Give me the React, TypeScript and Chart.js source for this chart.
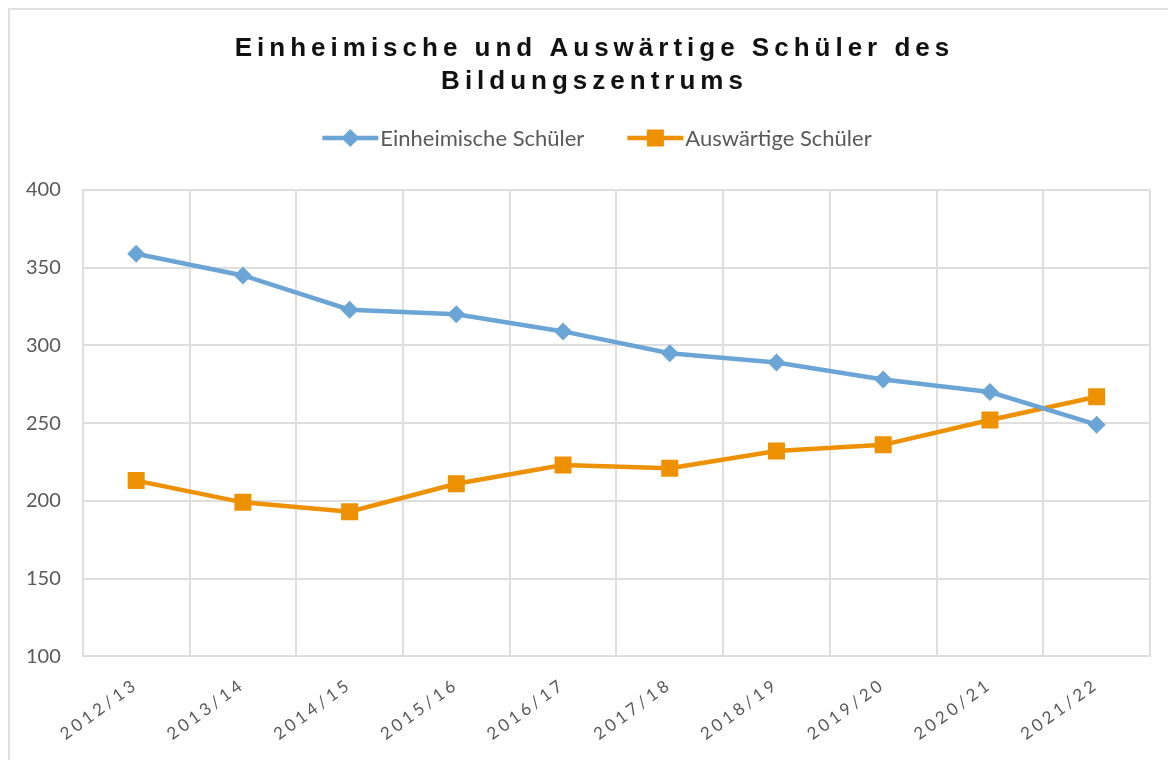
import React, { useEffect, useRef } from 'react';
import { Chart, registerables } from 'chart.js';

Chart.register(...registerables);

const TITLE_LINES = ['Einheimische und Auswärtige Schüler des', 'Bildungszentrums'];
const CATEGORIES = ['2012/13', '2013/14', '2014/15', '2015/16', '2016/17', '2017/18', '2018/19', '2019/20', '2020/21', '2021/22'];
const EINHEIMISCHE = [359, 345, 323, 320, 309, 295, 289, 278, 270, 249];
const AUSWAERTIGE = [213, 199, 193, 211, 223, 221, 232, 236, 252, 267];
const SERIES_NAMES = ['Einheimische Schüler', 'Auswärtige Schüler'];
const Y_MIN = 100;
const Y_MAX = 400;
const Y_STEP = 50;

const BLUE = '#6BA5D6';
const ORANGE = '#EE9100';
const GRID = '#DEDEDE';
const LABEL = '#595959';

function drawMarker(ctx: CanvasRenderingContext2D, style: string, x: number, y: number, color: string) {
  ctx.save();
  ctx.fillStyle = color;
  ctx.beginPath();
  if (style === 'rectRot') {
    const r = 9;
    ctx.moveTo(x - r, y);
    ctx.lineTo(x, y - r);
    ctx.lineTo(x + r, y);
    ctx.lineTo(x, y + r);
    ctx.closePath();
  } else {
    const s = 8.5;
    ctx.rect(x - s, y - s, 2 * s, 2 * s);
  }
  ctx.fill();
  ctx.restore();
}

const titleLegendPlugin = {
  id: 'titleLegend',
  afterDraw(chart: any) {
    const ctx: CanvasRenderingContext2D = chart.ctx;
    const cx = chart.width / 2;
    ctx.save();
    // title
    ctx.fillStyle = '#111111';
    ctx.font = 'bold 26px "Liberation Sans", Arial, sans-serif';
    (ctx as any).letterSpacing = '5px';
    ctx.textAlign = 'center';
    ctx.textBaseline = 'alphabetic';
    TITLE_LINES.forEach((t, i) => {
      ctx.fillText(t, cx + 1.5, 46 + i * 33);
    });
    // legend
    (ctx as any).letterSpacing = '0px';
    ctx.font = '22px Lato, sans-serif';
    ctx.textAlign = 'left';
    ctx.textBaseline = 'middle';
    const lineLen = 56;
    const gapText = 2;
    const gapItems = 43;
    const ds = chart.data.datasets;
    const widths = ds.map((d: any) => ctx.measureText(d.label).width);
    let total = 0;
    widths.forEach((w: number, i: number) => {
      total += lineLen + gapText + w + (i < widths.length - 1 ? gapItems : 0);
    });
    let x = cx - total / 2 + 4;
    const y = 128;
    ds.forEach((d: any, i: number) => {
      ctx.strokeStyle = d.borderColor;
      ctx.lineWidth = 4.5;
      ctx.beginPath();
      ctx.moveTo(x, y);
      ctx.lineTo(x + lineLen, y);
      ctx.stroke();
      drawMarker(ctx, d.pointStyle, x + lineLen / 2, y, d.borderColor);
      ctx.fillStyle = LABEL;
      ctx.fillText(d.label, x + lineLen + gapText, y + 1);
      x += lineLen + gapText + widths[i] + gapItems;
    });
    ctx.restore();
  },
};

export default function App() {
  const ref = useRef<HTMLCanvasElement | null>(null);
  useEffect(() => {
    if (!ref.current) return;
    const chart = new Chart(ref.current, {
      type: 'line',
      data: {
        labels: CATEGORIES,
        datasets: [
          {
            label: SERIES_NAMES[0],
            data: EINHEIMISCHE,
            borderColor: BLUE,
            backgroundColor: BLUE,
            borderWidth: 4.5,
            pointStyle: 'rectRot',
            pointRadius: 9,
            pointBorderWidth: 0,
            tension: 0,
          },
          {
            label: SERIES_NAMES[1],
            data: AUSWAERTIGE,
            borderColor: ORANGE,
            backgroundColor: ORANGE,
            borderWidth: 4.5,
            pointStyle: 'rect',
            pointRadius: 12,
            pointBorderWidth: 0,
            tension: 0,
          },
        ],
      },
      options: {
        responsive: false,
        animation: false,
        devicePixelRatio: 1,
        layout: { padding: { top: 180, left: -6, right: 26, bottom: 12 } },
        plugins: {
          legend: { display: false },
          title: { display: false },
          tooltip: { enabled: false },
        },
        scales: {
          x: {
            offset: true,
            grid: { offset: true, color: GRID, lineWidth: 2, drawTicks: false },
            border: { color: GRID, width: 2 },
            ticks: {
              minRotation: 36,
              maxRotation: 36,
              color: LABEL,
              padding: 18,
              font: { family: 'Lato', size: 17 },
            },
          },
          y: {
            min: Y_MIN,
            max: Y_MAX,
            grid: { color: GRID, lineWidth: 2, drawTicks: false },
            border: { color: GRID, width: 2 },
            ticks: {
              stepSize: Y_STEP,
              color: LABEL,
              padding: 22,
              font: { family: 'Lato', size: 20 },
            },
          },
        },
      },
      plugins: [titleLegendPlugin],
    });
    const xs: any = chart.scales.x;
    const orig = xs.drawLabels.bind(xs);
    xs.drawLabels = (area: any) => {
      const ctx: any = chart.ctx;
      ctx.save();
      ctx.letterSpacing = '3.5px';
      orig(area);
      ctx.restore();
    };
    chart.draw();
    return () => chart.destroy();
  }, []);
  return (
    <div
      style={{
        width: 1166,
        height: 750,
        borderLeft: '2px solid #E0E0E0',
        borderTop: '2px solid #E0E0E0',
        background: '#fff',
      }}
    >
      <canvas ref={ref} width={1166} height={750} style={{ display: 'block' }} />
    </div>
  );
}
